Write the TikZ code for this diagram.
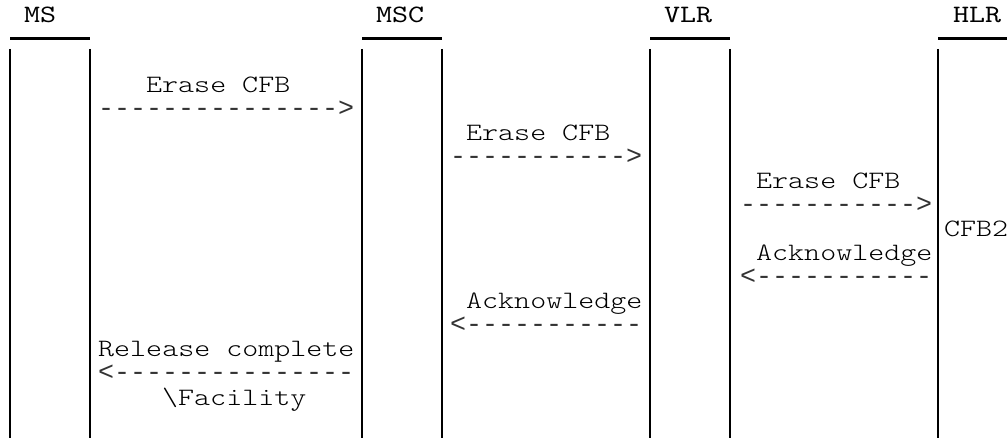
\documentclass[tikz,border=0pt]{standalone}
\usepackage{fontspec}
\setmonofont{Liberation Mono}
\newfontfamily\msgfont{lmmonolt10-regular.otf}[FakeStretch=1.22]
\newfontfamily\entfont{lmmono10-regular.otf}[FakeStretch=1.22]
\tikzset{
  ent/.style={anchor=base west, inner sep=0pt, font=\entfont\fontsize{25pt}{24pt}\selectfont},
  msg/.style={anchor=base west, inner sep=0pt, text height=15pt, text depth=4pt, font=\msgfont\fontsize{25pt}{24pt}\selectfont},
  arr/.style={anchor=base west, inner sep=0pt, text height=12pt, text depth=0pt, font=\ttfamily\fontsize{26.67pt}{24pt}\selectfont, text=black!80},
  bar/.style={line width=3pt},
  life/.style={line width=1.2pt}
}
\begin{document}
\begin{tikzpicture}[x=1pt,y=-1pt]
			\useasboundingbox (0,0) rectangle (1007,438);
			% entities
			\node[ent] (ms) at (24,23) {MS};
			\node[ent] (msc) at (376,23) {MSC};
			\node[ent] (vlr) at (664,23) {VLR};
			\node[ent] (hlr) at (953,23) {HLR};
			\draw[bar] (10,39) -- (90,39);
			\draw[bar] (362,39) -- (442,39);
			\draw[bar] (650,39) -- (730,39);
			\draw[bar] (938,39) -- (1010,39);
			\draw[life] (10,49) -- (10,438);
			\draw[life] (90,49) -- (90,438);
			\draw[life] (362,49) -- (362,438);
			\draw[life] (442,49) -- (442,438);
			\draw[life] (650,49) -- (650,438);
			\draw[life] (730,49) -- (730,438);
			\draw[life] (938,49) -- (938,438);
			% messages
			\node[msg] (m1) at (146,93) {Erase CFB};
			\node[arr] (a1) at (98,117) {--------------->};
			\node[msg] (m2) at (466,141) {Erase CFB};
			\node[arr] (a2) at (450,165) {----------->};
			\node[msg] (m3) at (756,189) {Erase CFB};
			\node[arr] (a3) at (740,213) {----------->};
			\node[msg] (cfb) at (944,237) {CFB2};
			\node[msg] (m4) at (756,261) {Acknowledge};
			\node[arr] (a4) at (740,285) {<-----------};
			\node[msg] (m5) at (466,309) {Acknowledge};
			\node[arr] (a5) at (450,333) {<-----------};
			\node[msg] (m6) at (98,357) {Release complete};
			\node[arr] (a6) at (98,381) {<---------------};
			\node[msg] (m7) at (162,405) {\textbackslash Facility};
			\end{tikzpicture}
\end{document}
